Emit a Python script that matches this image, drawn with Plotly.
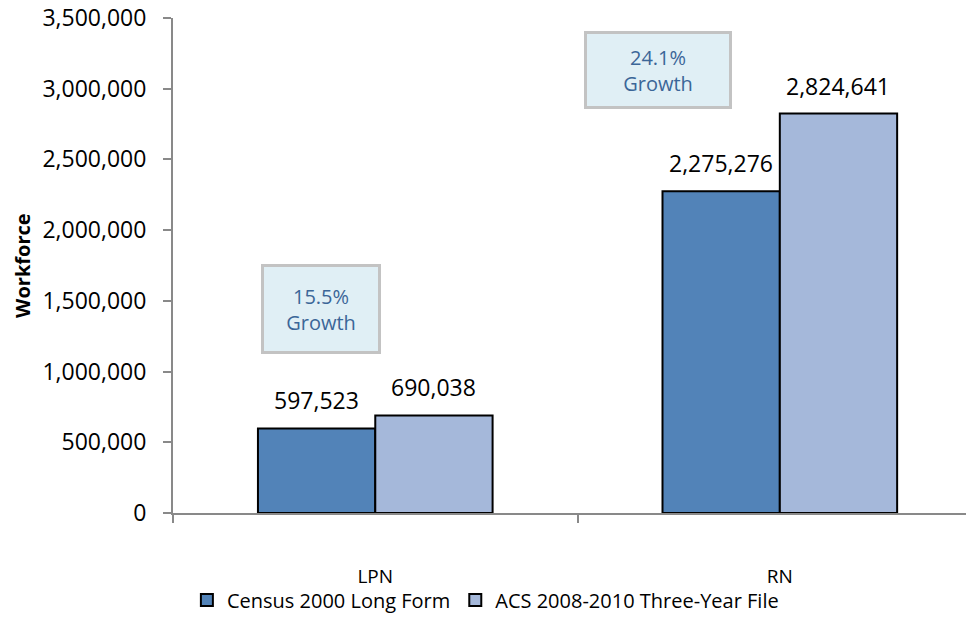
import plotly.graph_objects as go

categories = ["LPN", "RN"]
census_2000 = [597523, 2275276]
acs_2008_2010 = [690038, 2824641]
series_names = ["Census 2000 Long Form", "ACS 2008-2010 Three-Year File"]
growth_labels = ["15.5%<br>Growth", "24.1%<br>Growth"]
y_ticks = [0, 500000, 1000000, 1500000, 2000000, 2500000, 3000000, 3500000]

FONT = "Open Sans"
series = [(census_2000, series_names[0], "#5283B8", -0.145),
          (acs_2008_2010, series_names[1], "#A5B8DA", 0.145)]

fig = go.Figure()
for vals, name, color, off in series:
    fig.add_trace(go.Bar(
        x=categories, y=vals, name=name,
        marker=dict(color=color, line=dict(color="#000000", width=2)),
    ))
    # value labels, placed above each bar
    for cat_i, v in enumerate(vals):
        fig.add_annotation(
            x=cat_i + off, y=v, xref="x", yref="y", text=f"{v:,}",
            showarrow=False, yanchor="middle", yshift=28,
            font=dict(family=FONT, size=23, color="#000000"),
        )

# growth callouts
box_pos = [(-0.134, 1442000, 112, 82), (0.698, 3129000, 140, 70)]
for (bx, by, w, h), lab in zip(box_pos, growth_labels):
    fig.add_annotation(
        x=bx, y=by, xref="x", yref="y", text=lab, showarrow=False,
        font=dict(family=FONT, size=20, color="#3B6698"),
        bgcolor="#E0EFF5", bordercolor="#C3C3C3", borderwidth=3,
        width=w, height=h, align="center", valign="middle",
    )

# y axis title
fig.add_annotation(
    x=-0.188, y=0.50, xref="paper", yref="paper", text="<b>Workforce</b>",
    showarrow=False, textangle=-90, xanchor="center", yanchor="middle",
    font=dict(family=FONT, size=20, color="#000000"),
)

fig.update_layout(
    width=966, height=609,
    margin=dict(l=165, r=0, t=10, b=104),
    paper_bgcolor="white", plot_bgcolor="white",
    barmode="group", bargap=0.42, bargroupgap=0,
    font=dict(family=FONT, size=20, color="#000000"),
    legend=dict(orientation="h", x=0.39, xanchor="center",
                yref="container", y=0.028, yanchor="middle",
                font=dict(family=FONT, size=20, color="#000000"),
                bgcolor="rgba(0,0,0,0)",
                itemsizing="constant", traceorder="normal"),
    showlegend=True,
)
fig.update_xaxes(
    range=[-0.5, 1.48], showline=True, linecolor="#898989", linewidth=2,
    ticks="outside", tickson="boundaries", ticklen=8, tickcolor="#898989", tickwidth=2,
    tickfont=dict(family=FONT, size=19), ticklabelstandoff=45, showgrid=False,
    automargin=False,
)
fig.update_yaxes(
    range=[0, 3500000], tickvals=y_ticks, tickformat=",",
    showline=True, linecolor="#898989", linewidth=2,
    ticks="outside", ticklen=8, tickcolor="#898989", tickwidth=2,
    tickfont=dict(family=FONT, size=23), ticklabelstandoff=12, showgrid=False,
    zeroline=False, automargin=False, ticklabeloverflow="allow",
)

fig.write_html("out.html")
